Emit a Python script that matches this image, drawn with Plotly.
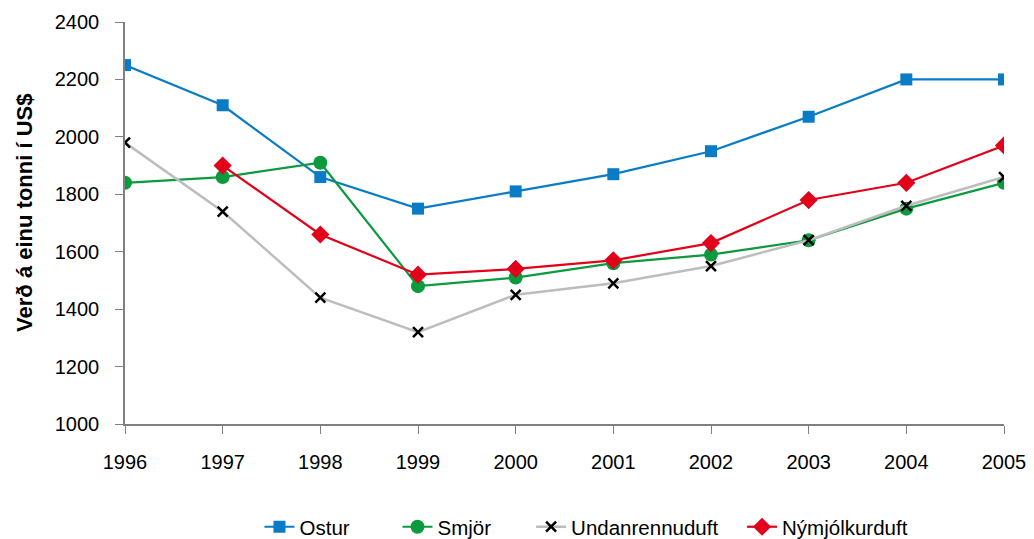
import plotly.graph_objects as go

years = [1996, 1997, 1998, 1999, 2000, 2001, 2002, 2003, 2004, 2005]
ostur = [2250, 2110, 1860, 1750, 1810, 1870, 1950, 2070, 2200, 2200]
smjor = [1840, 1860, 1910, 1480, 1510, 1560, 1590, 1640, 1750, 1840]
undanrennuduft = [1980, 1740, 1440, 1320, 1450, 1490, 1550, 1640, 1760, 1860]
nymjolkurduft = [None, 1900, 1660, 1520, 1540, 1570, 1630, 1780, 1840, 1970]

BLUE = "#0A7CC6"
GREEN = "#0C9A3E"
GREY = "#BDBDBD"
RED = "#E2001A"

fig = go.Figure()
fig.add_trace(go.Scatter(x=years, y=ostur, name="Ostur", mode="lines+markers",
                         legend="legend",
                         line=dict(color=BLUE, width=2.2),
                         marker=dict(symbol="square", size=12, color=BLUE)))
fig.add_trace(go.Scatter(x=years, y=smjor, name="Smjör", mode="lines+markers",
                         legend="legend2",
                         line=dict(color=GREEN, width=2.2),
                         marker=dict(symbol="circle", size=14, color=GREEN)))
fig.add_trace(go.Scatter(x=years, y=undanrennuduft, name="Undanrennuduft", mode="lines+markers",
                         legend="legend3",
                         line=dict(color=GREY, width=2.5),
                         marker=dict(symbol="x-thin-open", size=10, color="black",
                                     line=dict(color="black", width=2.5))))
fig.add_trace(go.Scatter(x=years, y=nymjolkurduft, name="Nýmjólkurduft", mode="lines+markers",
                         legend="legend4",
                         line=dict(color=RED, width=2.2),
                         marker=dict(symbol="diamond", size=14, color=RED)))

leg_common = dict(orientation="h", xanchor="left", y=-0.256, yanchor="middle",
                  font=dict(size=20.5), bgcolor="rgba(0,0,0,0)", borderwidth=0)

fig.update_layout(
    width=1026, height=539,
    margin=dict(l=117, r=30, t=14, b=123, autoexpand=False),
    plot_bgcolor="white", paper_bgcolor="white",
    font=dict(family="Liberation Sans, Arial", size=20, color="black"),
    showlegend=True,
    legend=dict(x=0.153, **leg_common),
    legend2=dict(x=0.310, **leg_common),
    legend3=dict(x=0.462, **leg_common),
    legend4=dict(x=0.702, **leg_common),
    annotations=[dict(text="<b>Verð á einu tonni í US$</b>", xref="paper", yref="paper",
                      x=-0.1138, y=0.525, xanchor="center", yanchor="middle",
                      textangle=-90, showarrow=False, font=dict(size=22, color="black"))],
)
fig.update_xaxes(range=[1996, 2005], tickvals=years, showgrid=False, zeroline=False,
                 showline=True, linecolor="#808080", linewidth=1.5, automargin=False,
                 ticks="outside", ticklen=8, tickcolor="#808080", tickfont=dict(size=20),
                 ticklabelstandoff=11)
fig.update_yaxes(range=[1000, 2400], dtick=200, showgrid=False, zeroline=False,
                 showline=True, linecolor="#808080", linewidth=1.5, automargin=False,
                 ticks="outside", ticklen=8, tickcolor="#808080", tickfont=dict(size=20),
                 ticklabelstandoff=12)

fig.write_html("out.html")
